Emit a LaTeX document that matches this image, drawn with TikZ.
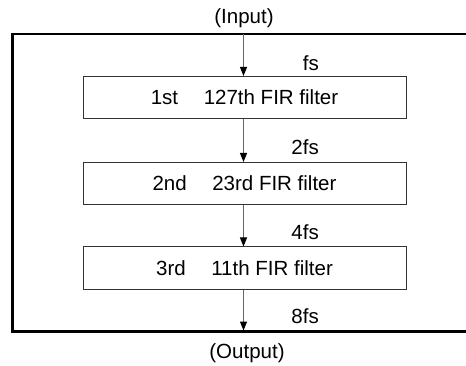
\documentclass[tikz,border=0pt]{standalone}
\usepackage{fontspec}
\setmainfont{Liberation Sans}
\usetikzlibrary{arrows.meta}
\begin{document}
\begin{tikzpicture}[x=1pt,y=-1pt,
  font=\fontsize{20.5}{24}\selectfont,
  filterbox/.style={draw=black!80,line width=1pt,minimum width=323pt,minimum height=42pt,inner sep=0pt},
  flow/.style={draw=black!60,line width=1pt,-{Triangle[width=7pt,length=9pt,color=black]}},
  ratelabel/.style={inner sep=0pt,anchor=base east}]
\useasboundingbox (0,0) rectangle (466,366);
\clip (0,0) rectangle (466,366);
\node[draw=black,line width=2.6pt,minimum width=470pt,minimum height=297.5pt,inner sep=0pt] (outer) at (247.5,182.75) {};
\node[inner sep=0pt,anchor=base] (in) at (244,24) {(Input)};
\node[inner sep=0pt,anchor=base] (out) at (247,358) {(Output)};
\node[filterbox] (f1) at (244.5,97.5) {1st\hspace{1.25em}127th FIR filter};
\node[filterbox] (f2) at (244.5,183.5) {2nd\hspace{1.25em}23rd FIR filter};
\node[filterbox] (f3) at (244.5,268) {3rd\hspace{1.25em}11th FIR filter};
\coordinate (t0) at (243.5,34);
\coordinate (b0) at (243.5,330.5);
\draw[flow] (t0) -- (t0 |- f1.north);
\draw[flow] (f1.south -| t0) -- (t0 |- f2.north);
\draw[flow] (f2.south -| t0) -- (t0 |- f3.north);
\draw[flow] (f3.south -| t0) -- (b0);
\node[ratelabel] (l1) at (319,71) {fs};
\node[ratelabel] (l2) at (319,155) {2fs};
\node[ratelabel] (l3) at (319,240) {4fs};
\node[ratelabel] (l4) at (319,323) {8fs};
\end{tikzpicture}
\end{document}
